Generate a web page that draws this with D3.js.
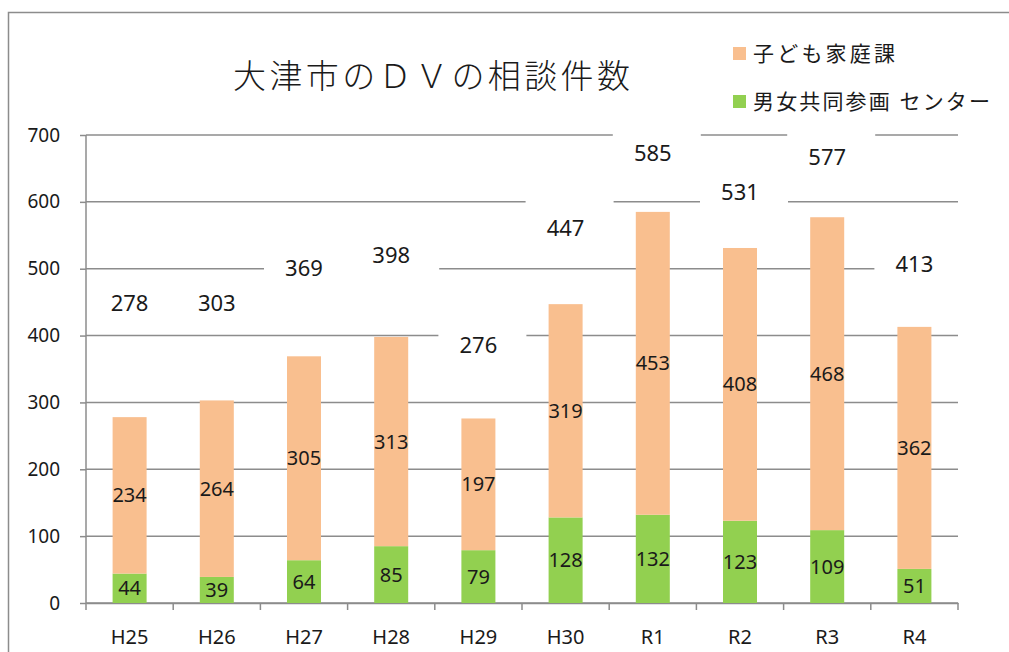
<!DOCTYPE html>
<html>
<head>
<meta charset="utf-8">
<script src="https://cdn.jsdelivr.net/npm/d3@7"></script>
<style>
  body { margin: 0; background: #fff; }
  text { font-family: "Noto Sans", "Noto Sans CJK JP", sans-serif; fill: #1a1a1a; }
</style>
</head>
<body>
<div id="wrapper"></div>
<script>
// 年度ごとのデータ
const years = ["H25", "H26", "H27", "H28", "H29", "H30", "R1", "R2", "R3", "R4"];
const centerCounts = [44, 39, 64, 85, 79, 128, 132, 123, 109, 51];   // 男女共同参画 センター
const familyCounts = [234, 264, 305, 313, 197, 319, 453, 408, 468, 362]; // 子ども家庭課
const totals = [278, 303, 369, 398, 276, 447, 585, 531, 577, 413];
// 合計ラベルの置かれた高さ（目盛の値で）
const totalLabelAt = [449, 449, 501, 520, 386, 561, 673, 615, 666, 506];
const yTicks = [0, 100, 200, 300, 400, 500, 600, 700];

const dimension = {
    width: 1009,
    height: 652,
    margin: { top: 135, left: 86, bottom: 49, right: 51 }
};
dimension.boundedWidth = dimension.width - dimension.margin.left - dimension.margin.right;
dimension.boundedHeight = dimension.height - dimension.margin.top - dimension.margin.bottom;

const svg = d3.select("#wrapper").append("svg")
    .attr("width", dimension.width)
    .attr("height", dimension.height);

// 枠
svg.append("rect")
    .attr("x", 8.5).attr("y", 12.5)
    .attr("width", 1020).attr("height", 660)
    .attr("fill", "none").attr("stroke", "#8c8c8c").attr("stroke-width", 1.5);

// タイトル
svg.append("text")
    .attr("x", 233).attr("y", 88)
    .attr("font-family", "'Noto Sans CJK JP', sans-serif")
    .attr("font-weight", 300)
    .attr("font-size", 33)
    .attr("textLength", 397).attr("lengthAdjust", "spacing")
    .text("大津市のＤＶの相談件数");

// 凡例
const legendItems = [
    { label: "子ども家庭課", color: "#f9bf8f", y: 53, len: 142 },
    { label: "男女共同参画 センター", color: "#92d050", y: 101, len: 237 }
];
const legend = svg.append("g");
legend.selectAll("rect").data(legendItems).join("rect")
    .attr("x", 733).attr("y", d => d.y - 6)
    .attr("width", 13).attr("height", 13)
    .attr("fill", d => d.color);
legend.selectAll("text").data(legendItems).join("text")
    .attr("x", 753).attr("y", d => d.y + 8)
    .attr("font-family", "'Noto Sans CJK JP', sans-serif")
    .attr("font-weight", 400)
    .attr("font-size", 21)
    .attr("textLength", d => d.len).attr("lengthAdjust", "spacing")
    .text(d => d.label);

const bounded = svg.append("g")
    .attr("transform", `translate(${dimension.margin.left},${dimension.margin.top})`);

const xScaler = d3.scaleBand()
    .domain(years)
    .range([0, dimension.boundedWidth])
    .paddingInner(0.61).paddingOuter(0.305);

const yScaler = d3.scaleLinear()
    .domain([0, 700])
    .range([dimension.boundedHeight, 0]);

const gridColor = "#8c8c8c";

// 目盛線
bounded.append("g")
    .selectAll("line").data(yTicks).join("line")
    .attr("x1", 0).attr("x2", dimension.boundedWidth)
    .attr("y1", d => yScaler(d)).attr("y2", d => yScaler(d))
    .attr("stroke", gridColor).attr("stroke-width", 1.5);

// Y軸
const yAxis = bounded.append("g")
    .call(d3.axisLeft(yScaler).tickValues(yTicks).tickSize(6).tickPadding(20));
yAxis.selectAll("path, line").attr("stroke", gridColor).attr("stroke-width", 1.5);
yAxis.select(".domain").attr("d", `M0,${dimension.boundedHeight}V0`);
yAxis.selectAll("text")
    .attr("font-family", "'Noto Sans', sans-serif")
    .attr("font-size", 19).attr("fill", "#1a1a1a");

// X軸
const xAxis = bounded.append("g")
    .attr("transform", `translate(0,${dimension.boundedHeight})`)
    .call(d3.axisBottom(xScaler).tickSize(0).tickPadding(27));
xAxis.select(".domain").attr("stroke", gridColor).attr("stroke-width", 1.5);
xAxis.selectAll("text")
    .attr("font-family", "'Noto Sans', sans-serif")
    .attr("font-size", 20).attr("fill", "#1a1a1a");
xAxis.selectAll(".edge").data(d3.range(years.length + 1)).join("line")
    .attr("x1", i => i * xScaler.step()).attr("x2", i => i * xScaler.step())
    .attr("y1", 0).attr("y2", 7)
    .attr("stroke", gridColor).attr("stroke-width", 1.5);

// 積み上げ棒
const rows = years.map((y, i) => ({ year: y, center: centerCounts[i], family: familyCounts[i], total: totals[i], labelAt: totalLabelAt[i] }));
const stacked = d3.stack().keys(["center", "family"])(rows);
const colors = { center: "#92d050", family: "#f9bf8f" };

const layers = bounded.selectAll(".layer").data(stacked).join("g")
    .attr("fill", d => colors[d.key]);
layers.selectAll("rect").data(d => d).join("rect")
    .attr("x", d => xScaler(d.data.year))
    .attr("y", d => yScaler(d[1]))
    .attr("width", xScaler.bandwidth())
    .attr("height", d => yScaler(d[0]) - yScaler(d[1]));

// 棒の中の数値
const inner = bounded.append("g");
stacked.forEach(layer => {
    inner.selectAll(".lbl-" + layer.key).data(layer).join("text")
        .attr("x", d => xScaler(d.data.year) + xScaler.bandwidth() / 2)
        .attr("y", d => yScaler((d[0] + d[1]) / 2))
        .attr("dy", "0.35em")
        .attr("text-anchor", "middle")
        .attr("font-size", 20)
        .text(d => d[1] - d[0]);
});

// 合計（白いテキストボックス）
const boxes = bounded.append("g");
boxes.selectAll("rect").data(rows).join("rect")
    .attr("x", d => xScaler(d.year) + xScaler.bandwidth() / 2 - 40)
    .attr("y", d => yScaler(d.labelAt) - 28)
    .attr("width", 88).attr("height", 56)
    .attr("fill", "#fff");
boxes.selectAll("text").data(rows).join("text")
    .attr("x", d => xScaler(d.year) + xScaler.bandwidth() / 2)
    .attr("y", d => yScaler(d.labelAt))
    .attr("dy", "0.35em")
    .attr("text-anchor", "middle")
    .attr("font-size", 22)
    .text(d => d.total);
</script>
</body>
</html>
